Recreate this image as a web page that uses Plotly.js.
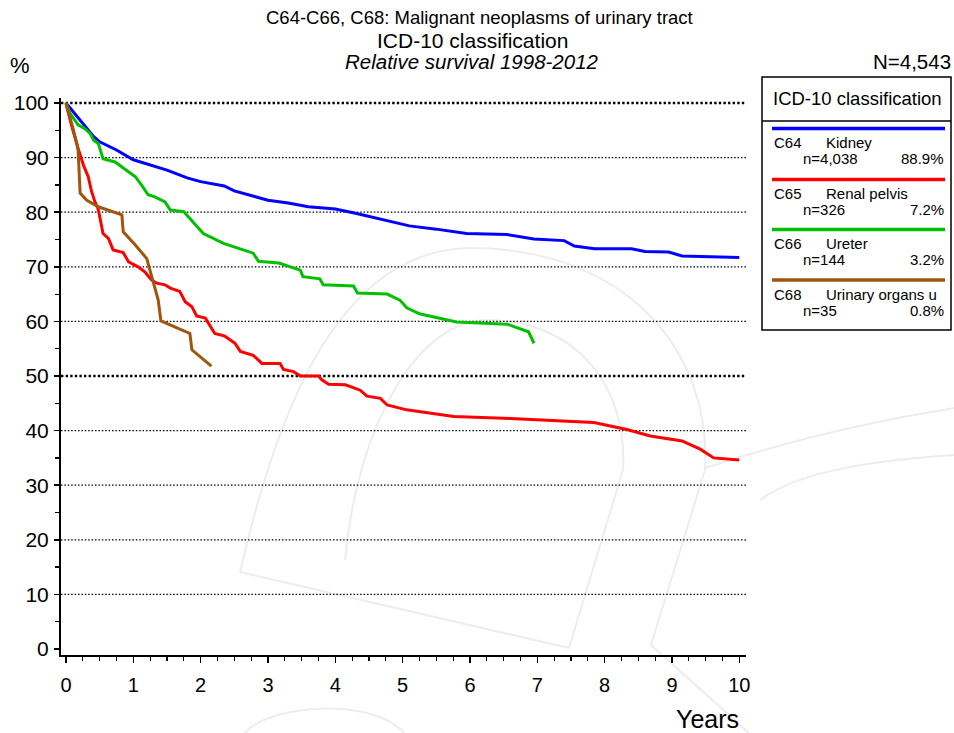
<!DOCTYPE html>
<html>
<head>
<meta charset="utf-8">
<script src="https://cdn.plot.ly/plotly-3.0.1.min.js"></script>
<style>html,body{margin:0;padding:0;background:#fff;}#chart{width:954px;height:733px;}</style>
</head>
<body>
<div id="chart"></div>
<script>
// ---------------- DATA ----------------
const codes = ['C64', 'C65', 'C66', 'C68'];
const siteNames = ['Kidney', 'Renal pelvis', 'Ureter', 'Urinary organs u'];
const counts = ['n=4,038', 'n=326', 'n=144', 'n=35'];
const shares = ['88.9%', '7.2%', '3.2%', '0.8%'];
const totalN = 'N=4,543';

const kidneyYears = [0, 0.1, 0.2, 0.3, 0.4, 0.5, 0.75, 1.0, 1.25, 1.5, 1.8, 2.0, 2.35, 2.5, 3.0, 3.3, 3.6, 4.0, 4.3, 4.6, 4.8, 5.1, 5.5, 5.95, 6.55, 6.95, 7.4, 7.55, 7.85, 8.4, 8.6, 8.95, 9.15, 10];
const kidneySurv  = [100, 98.5, 96.9, 95.3, 94.0, 92.9, 91.4, 89.6, 88.6, 87.7, 86.3, 85.6, 84.8, 83.9, 82.2, 81.7, 81.0, 80.6, 79.8, 78.9, 78.3, 77.5, 76.9, 76.1, 75.9, 75.1, 74.8, 73.8, 73.3, 73.3, 72.8, 72.7, 72.0, 71.7];

const pelvisYears = [0, 0.08, 0.18, 0.26, 0.33, 0.38, 0.43, 0.48, 0.55, 0.63, 0.70, 0.85, 0.93, 1.07, 1.17, 1.27, 1.35, 1.47, 1.55, 1.69, 1.77, 1.87, 1.94, 2.07, 2.21, 2.36, 2.51, 2.59, 2.78, 2.91, 3.18, 3.23, 3.38, 3.48, 3.75, 3.80, 3.90, 4.15, 4.37, 4.47, 4.67, 4.77, 5.06, 5.36, 5.76, 6.6, 7.84, 8.33, 8.68, 9.15, 9.42, 9.62, 10];
const pelvisSurv  = [100, 96.0, 91.7, 88.6, 86.5, 83.8, 81.9, 80.5, 76.1, 75.2, 73.1, 72.6, 70.9, 70.0, 69.1, 67.6, 67.0, 66.7, 66.1, 65.5, 63.6, 62.7, 61.0, 60.6, 57.8, 57.3, 56.0, 54.5, 53.8, 52.3, 52.3, 51.2, 50.8, 50.0, 50.0, 49.3, 48.5, 48.4, 47.4, 46.3, 45.9, 44.7, 43.8, 43.3, 42.6, 42.2, 41.5, 40.2, 39.0, 38.1, 36.6, 35.0, 34.6];

const ureterYears = [0, 0.06, 0.18, 0.28, 0.36, 0.41, 0.48, 0.55, 0.73, 0.83, 1.03, 1.12, 1.22, 1.32, 1.47, 1.55, 1.75, 2.04, 2.19, 2.34, 2.78, 2.86, 3.16, 3.48, 3.52, 3.77, 3.82, 4.27, 4.33, 4.77, 4.96, 5.06, 5.25, 5.8, 6.55, 6.87, 6.95];
const ureterSurv  = [100, 98.1, 96.0, 95.3, 94.4, 93.2, 92.6, 89.8, 89.2, 88.3, 86.5, 85.0, 83.2, 82.8, 81.9, 80.4, 80.1, 76.1, 75.2, 74.3, 72.5, 71.0, 70.7, 69.4, 68.2, 67.8, 66.7, 66.5, 65.2, 65.0, 63.9, 62.5, 61.4, 59.9, 59.5, 58.1, 56.0];

const otherYears = [0, 0.06, 0.11, 0.16, 0.18, 0.21, 0.31, 0.48, 0.83, 0.85, 1.03, 1.2, 1.27, 1.32, 1.37, 1.41, 1.84, 1.87, 2.16];
const otherSurv  = [100, 97.5, 95.1, 92.6, 91.4, 83.5, 82.2, 81.0, 79.5, 76.4, 74.0, 71.5, 68.5, 66.4, 63.9, 60.1, 57.8, 54.8, 51.8];

const gridValues = [10, 20, 30, 40, 50, 60, 70, 80, 90, 100];
const boldGridValues = [50, 100];
const xTickVals = [0, 1, 2, 3, 4, 5, 6, 7, 8, 9, 10];
const yTickVals = [0, 10, 20, 30, 40, 50, 60, 70, 80, 90, 100];

// ---------------- STYLE ----------------
const colors = ['#0000ff', '#ff0000', '#00c000', '#a0550f'];
const FONT = 'Arial, "Liberation Sans", sans-serif';
const L = 61, R = 208, T = 98, B = 78, W = 954, H = 733;
const PW = W - L - R, PH = H - T - B;
const fx = x => (x - L) / PW;
const fy = y => (H - B - y) / PH;

const seriesX = [kidneyYears, pelvisYears, ureterYears, otherYears];
const seriesY = [kidneySurv, pelvisSurv, ureterSurv, otherSurv];

const traces = seriesX.map((xs, i) => ({
  type: 'scatter', mode: 'lines', x: xs, y: seriesY[i],
  name: codes[i] + ' ' + siteNames[i],
  line: {color: colors[i], width: 3},
  showlegend: false, hoverinfo: 'x+y+name'
}));

const shapes = [];
// watermark (faint logo outline)
const wm = [
  'M240,572 C275,420 335,250 470,248 C625,248 712,350 705,470 L651,645',
  'M345,560 C358,420 420,320 487,320 C575,320 628,385 623,470 L569,648',
  'M240,572 L569,648',
  'M651,645 L749,733',
  'M705,468 C790,440 880,420 954,408',
  'M760,500 C800,470 880,460 954,455',
  'M245,733 C270,703 375,698 404,733'
];
wm.forEach(p => {
  const conv = p.replace(/(-?\d+(?:\.\d+)?),(-?\d+(?:\.\d+)?)/g, (m, a, b) => fx(+a).toFixed(4) + ',' + fy(+b).toFixed(4));
  shapes.push({type: 'path', xref: 'paper', yref: 'paper', path: conv, line: {color: '#ededed', width: 2}, layer: 'below'});
});
// dotted grid lines
gridValues.forEach(v => {
  const bold = boldGridValues.includes(v);
  shapes.push({type: 'line', xref: 'paper', yref: 'y', x0: 0, x1: 1, y0: v, y1: v,
    line: {color: '#000', width: bold ? 2.4 : 1.3, dash: bold ? '2.4px,2.2px' : '1.5px,1.9px'}, layer: 'below'});
});
// legend box
shapes.push({type: 'rect', xref: 'paper', yref: 'paper', x0: fx(762), x1: fx(951), y0: fy(77), y1: fy(330), line: {color: '#000', width: 1.5}});
shapes.push({type: 'line', xref: 'paper', yref: 'paper', x0: fx(762), x1: fx(951), y0: fy(121), y1: fy(121), line: {color: '#000', width: 1.5}});
const entryY = [128.5, 179.5, 229.5, 280];
entryY.forEach((yy, i) => {
  shapes.push({type: 'line', xref: 'paper', yref: 'paper', x0: fx(772), x1: fx(945), y0: fy(yy), y1: fy(yy), line: {color: colors[i], width: 3.5}});
});

const ann = [];
function txt(text, x, y, size, xanchor, extra) {
  ann.push(Object.assign({text: text, xref: 'paper', yref: 'paper', x: fx(x), y: fy(y), xanchor: xanchor || 'center', yanchor: 'middle', showarrow: false, font: {family: FONT, size: size, color: '#000'}}, extra || {}));
}
txt('C64-C66, C68: Malignant neoplasms of urinary tract', 479, 18, 18.5);
txt('ICD-10 classification', 472, 40, 21);
txt('<i>Relative survival 1998-2012</i>', 472, 62, 20.5);
txt('%', 20, 65, 22);
txt(totalN, 953, 62, 20.5, 'right');
txt('Years', 741, 719, 25, 'right');
txt('ICD-10 classification', 771, 98, 18.5, 'left');
entryY.forEach((yy, i) => {
  txt(codes[i], 772, yy + 14, 15, 'left');
  txt(siteNames[i], 824, yy + 14, 15, 'left');
  txt(counts[i], 801, yy + 30, 15, 'left');
  txt(shares[i], 946, yy + 30, 15, 'right');
});

const layout = {
  width: W, height: H,
  margin: {l: L, r: R, t: T, b: B, pad: 0},
  paper_bgcolor: '#fff', plot_bgcolor: 'rgba(0,0,0,0)',
  showlegend: false,
  font: {family: FONT, color: '#000'},
  xaxis: {
    range: [-0.074, 10.1], showgrid: false, zeroline: false,
    showline: true, linecolor: '#000', linewidth: 2,
    tickmode: 'array', tickvals: xTickVals, ticktext: xTickVals.map(String),
    ticks: 'outside', ticklen: 6, tickwidth: 1.5, tickcolor: '#000',
    ticklabelstandoff: 5,
    minor: {dtick: 0.25, tick0: 0, ticks: 'outside', ticklen: 4, tickwidth: 1.2, tickcolor: '#000', showgrid: false},
    tickfont: {family: FONT, size: 20, color: '#000'}, fixedrange: true
  },
  yaxis: {
    range: [-1.1, 100.92], showgrid: false, zeroline: false,
    showline: true, linecolor: '#000', linewidth: 2,
    tickmode: 'array', tickvals: yTickVals, ticktext: yTickVals.map(String),
    ticks: 'outside', ticklen: 5, tickwidth: 1.5, tickcolor: '#000',
    ticklabelstandoff: 1,
    minor: {dtick: 5, tick0: 0, ticks: 'outside', ticklen: 4, tickwidth: 1.2, tickcolor: '#000', showgrid: false},
    tickfont: {family: FONT, size: 21, color: '#000'}, fixedrange: true
  },
  shapes: shapes,
  annotations: ann
};

Plotly.newPlot('chart', traces, layout, {displayModeBar: false, staticPlot: true});
</script>
</body>
</html>
